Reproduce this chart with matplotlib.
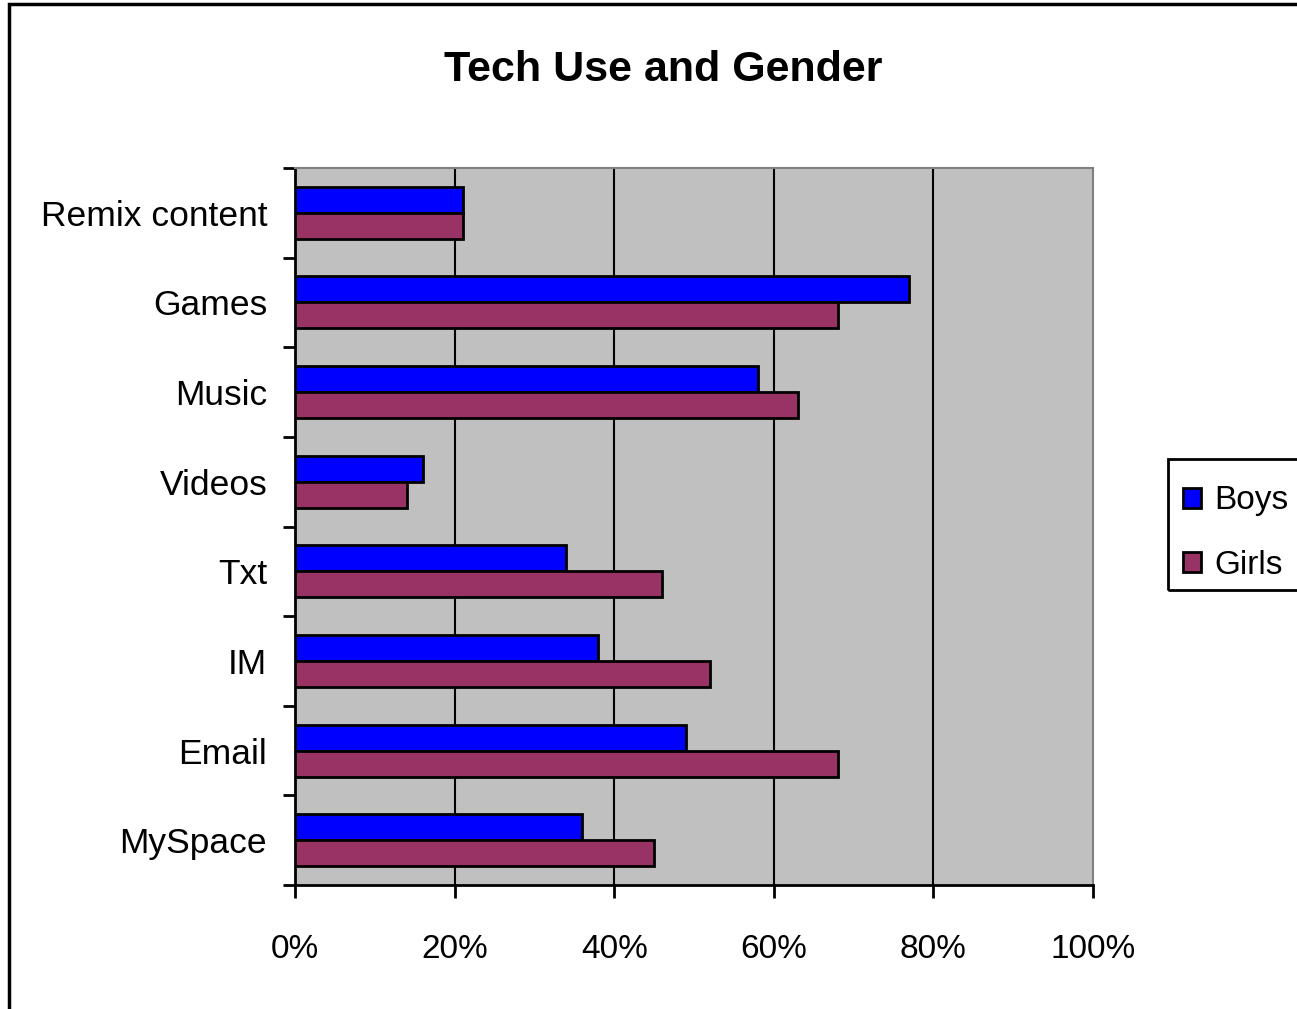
import matplotlib.pyplot as plt
from matplotlib.patches import Patch, Rectangle
import numpy as np

# Share of kids using each technology, by gender (%)
categories = ["MySpace", "Email", "IM", "Txt", "Videos", "Music", "Games", "Remix content"]
boys = [36, 49, 38, 34, 16, 58, 77, 21]
girls = [45, 68, 52, 46, 14, 63, 68, 21]
x_ticks = [0, 20, 40, 60, 80, 100]
x_labels = ["0%", "20%", "40%", "60%", "80%", "100%"]

boys_color = "#0000FF"
girls_color = "#993366"

plt.rcParams['font.family'] = ['Liberation Sans', 'DejaVu Sans']

fig = plt.figure(figsize=(12.97, 10.09), dpi=100)
ax = fig.add_axes([295 / 1297, 1 - 885 / 1009, (1093 - 295) / 1297, (885 - 168) / 1009])
ax.set_facecolor("#C0C0C0")

y = np.arange(len(categories))
bar_h = 0.29
ax.barh(y + bar_h / 2, boys, height=bar_h, color=boys_color, edgecolor="black", linewidth=2, zorder=3)
ax.barh(y - bar_h / 2, girls, height=bar_h, color=girls_color, edgecolor="black", linewidth=2, zorder=3)

ax.set_xlim(0, 100)
ax.set_ylim(-0.5, len(categories) - 0.5)

# vertical gridlines
for gx in x_ticks[1:-1]:
    ax.axvline(gx, color="black", linewidth=1.5, zorder=1)

ax.set_xticks(x_ticks)
ax.set_xticklabels(x_labels, fontsize=24)
ax.tick_params(axis="x", direction="out", length=9, width=2, pad=26)

# category labels at centers, tick marks at the boundaries
ax.set_yticks(y)
ax.set_yticklabels(categories, fontsize=25.5)
ax.set_yticks(np.arange(-0.5, len(categories)), minor=True)
ax.tick_params(axis="y", which="major", length=0, pad=20)
ax.tick_params(axis="y", which="minor", direction="out", length=9, width=2)

for side in ["left", "bottom"]:
    ax.spines[side].set_color("black")
    ax.spines[side].set_linewidth(2)
for side in ["top", "right"]:
    ax.spines[side].set_color("#808080")
    ax.spines[side].set_linewidth(1.5)

fig.text(663 / 1297, 1 - 70 / 1009, "Tech Use and Gender", ha="center", va="center",
         fontsize=31, fontweight="bold")

# legend
handles = [Patch(facecolor=boys_color, edgecolor="black", linewidth=2),
           Patch(facecolor=girls_color, edgecolor="black", linewidth=2)]
fig.legend(handles, ["Boys", "Girls"], loc="center left",
           bbox_to_anchor=(1166 / 1297, 1 - 533 / 1009), frameon=False, fontsize=24,
           handlelength=0.55, handleheight=0.55, handletextpad=0.4, labelspacing=1.0,
           borderpad=0)
fig.patches.append(Rectangle((1168 / 1297, 1 - 590 / 1009), 0.2, (590 - 459) / 1009,
                             transform=fig.transFigure, fill=False, edgecolor="black",
                             linewidth=2, clip_on=False))

# chart area border
fig.patches.append(Rectangle((9 / 1297, -0.05), 1.1, 1.05 - 4 / 1009,
                             transform=fig.transFigure, fill=False, edgecolor="black",
                             linewidth=2.5, clip_on=False))

fig.savefig("out.png", dpi=100)
